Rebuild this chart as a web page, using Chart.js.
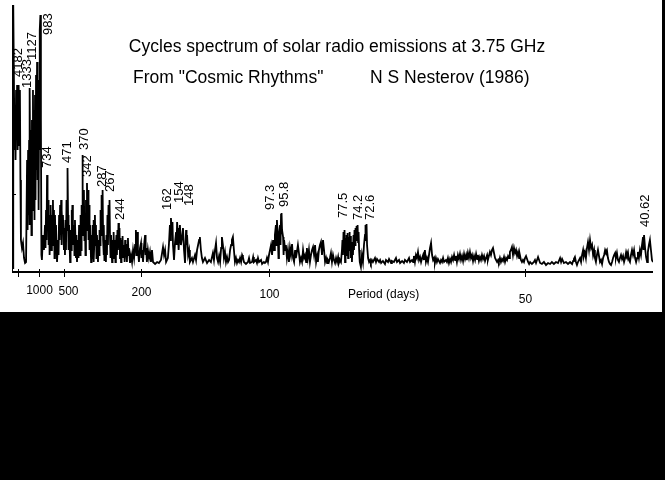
<!DOCTYPE html>
<html>
<head>
<meta charset="utf-8">
<script src="https://cdn.jsdelivr.net/npm/chart.js@4.4.1/dist/chart.umd.min.js"></script>
<style>
  html, body { margin: 0; padding: 0; background: #000; }
  canvas { display: block; }
</style>
</head>
<body>
<canvas id="c" width="665" height="480" style="width:665px;height:480px"></canvas>
<script>
// ---- Data ----
// x: frequency in cycles per 1000 days (period = 1000 / freq days)
// y: relative spectral amplitude (arbitrary units)
const titleLine1 = 'Cycles spectrum of solar radio emissions at 3.75 GHz';
const titleLine2a = 'From "Cosmic Rhythms"';
const titleLine2b = 'N S Nesterov (1986)';
const axisTitle = 'Period (days)';

const tickPeriods = [5000, 1000, 500, 200, 100, 50];
const tickLabels  = ['', '1000', '500', '200', '100', '50'];

const peakPeriods = [4182, 1333, 1127, 983, 734, 471, 370, 342, 287, 267, 244, 162, 154, 148, 97.3, 95.8, 77.5, 74.2, 72.6, 40.62];
const peakLabels  = ['4182','1333','1127','983','734','471','370','342','287','267','244','162','154','148','97.3','95.8','77.5','74.2','72.6','40.62'];
const peakLabelLevel = [193, 182, 210, 235, 102, 107, 120, 93, 83, 78, 50, 60, 67, 64, 60, 63, 52, 50, 50, 43];

const freq = [
  0.00,0.01,0.06,0.08,0.10,0.12,0.14,0.16,0.18,0.20,0.21,0.23,0.25,0.27,0.29,0.31,0.35,0.39,0.43,0.47,0.51,
  0.55,0.57,0.59,0.61,0.63,0.64,0.66,0.68,0.70,0.72,0.74,0.76,0.78,0.80,0.82,0.84,0.86,0.88,0.90,0.92,0.94,0.96,0.98,1.00,1.02,1.04,1.05,1.07,1.09,1.11,1.13,
  1.17,1.21,1.25,1.27,1.29,1.31,1.33,1.35,1.37,1.39,1.41,1.43,1.45,1.46,1.48,1.50,1.52,1.54,1.56,1.58,1.60,1.62,1.64,1.66,1.68,1.72,1.76,1.78,1.80,1.82,1.84,1.86,1.88,1.89,1.91,1.93,1.95,1.99,
  2.01,2.03,2.05,2.07,2.09,2.11,2.13,2.15,2.17,2.19,2.23,2.25,2.27,2.29,2.30,2.32,2.34,2.38,2.40,2.42,2.46,2.48,2.50,2.54,2.56,2.58,2.62,2.64,2.66,2.68,2.70,2.71,2.73,2.75,2.77,2.79,2.81,2.83,2.85,2.87,2.89,2.91,2.93,2.95,2.97,2.99,
  3.01,3.05,3.07,3.09,3.11,3.13,3.14,3.16,3.18,3.20,3.22,3.24,3.26,3.28,3.32,3.34,3.36,3.38,3.40,3.42,3.44,3.46,3.48,3.50,3.52,3.54,3.55,3.57,3.59,3.63,3.65,3.67,3.69,3.71,3.73,3.75,3.77,3.79,3.81,3.83,3.87,3.89,3.91,3.93,3.95,3.98,
  4.00,4.02,4.04,4.06,4.08,4.10,4.12,4.14,4.16,4.18,4.20,4.22,4.24,4.26,4.28,4.30,4.34,4.36,4.38,4.39,4.41,4.45,4.47,4.49,4.51,4.53,4.57,
  4.61,4.65,4.69,4.73,4.77,4.80,4.82,4.84,4.86,4.88,4.92,4.96,5.00,5.02,5.04,5.08,5.12,5.16,5.18,5.20,5.23,5.27,5.31,5.35,5.39,5.43,5.47,5.55,5.63,5.70,5.78,5.86,5.90,5.94,5.98,
  6.05,6.09,6.13,6.15,6.17,6.21,6.23,6.25,6.29,6.33,6.37,6.39,6.41,6.45,6.46,6.48,6.52,6.56,6.60,6.64,6.68,6.72,6.76,6.78,6.80,6.84,6.88,6.91,6.99,7.03,7.11,7.15,7.19,7.23,7.27,7.30,7.34,7.38,
  7.42,7.50,7.58,7.66,7.73,7.81,7.85,7.89,7.93,7.97,8.01,8.05,8.09,8.13,8.16,8.20,8.24,8.28,8.32,8.36,8.40,8.44,8.48,8.52,8.55,8.59,8.63,8.67,8.71,8.75,8.79,8.83,8.87,8.91,8.95,8.98,
  9.02,9.10,9.18,9.22,9.26,9.34,9.38,9.41,9.49,9.53,9.57,9.61,9.69,9.73,9.80,9.84,9.88,9.92,9.96,10.00,10.04,
  10.08,10.12,10.16,10.20,10.23,10.27,10.29,10.31,10.35,10.37,10.39,10.43,10.45,10.47,10.49,10.51,10.55,10.57,10.59,10.63,10.66,10.70,10.74,10.78,10.82,10.86,10.90,10.94,10.98,
  11.02,11.05,11.09,11.13,11.17,11.21,11.25,11.29,11.33,11.37,11.41,11.45,11.48,11.52,11.56,11.60,11.64,11.68,11.72,11.76,11.80,11.84,11.88,11.91,11.95,11.99,
  12.03,12.07,12.11,12.15,12.19,12.23,12.27,12.30,12.34,
  12.38,12.42,12.46,12.50,12.54,12.58,12.62,12.66,12.70,12.73,12.77,12.81,12.85,12.87,12.89,12.91,12.93,12.95,12.97,12.99,
  13.01,13.03,13.05,13.07,13.09,13.11,13.13,13.14,13.16,13.18,13.20,13.22,13.24,13.26,13.28,13.30,13.32,13.34,13.36,13.38,13.40,13.42,13.44,13.46,13.48,13.50,13.52,13.54,13.55,13.59,13.63,13.67,13.71,13.75,13.77,13.79,13.81,13.83,13.87,13.91,13.95,13.98,
  14.02,14.06,14.14,14.18,14.22,14.30,14.34,14.38,14.45,14.53,14.57,14.65,14.69,14.77,14.80,14.88,14.96,15.00,15.08,15.12,15.20,15.27,15.31,15.39,15.47,15.51,15.59,15.63,15.66,15.70,15.74,15.78,15.82,15.86,15.90,
  15.94,15.98,16.02,16.05,16.09,16.13,16.17,16.21,16.25,16.29,16.33,16.37,16.41,16.45,16.48,16.52,16.56,16.60,16.68,16.72,16.76,16.80,16.84,16.91,16.95,16.99,
  17.03,17.07,17.11,17.15,17.19,17.23,17.27,17.30,17.34,17.38,17.42,17.46,17.50,17.54,17.58,17.62,17.66,17.70,17.73,17.77,17.81,17.85,17.89,17.93,17.97,
  18.01,18.05,18.09,18.13,18.16,18.20,18.24,18.28,18.32,18.36,18.40,18.44,18.48,18.52,18.55,18.59,18.63,18.67,18.71,18.75,18.79,18.83,18.87,18.91,18.95,
  18.98,19.02,19.06,19.10,19.14,19.18,19.22,19.26,19.30,19.34,19.38,19.41,19.45,19.49,19.53,19.57,19.61,19.65,19.69,19.73,19.77,19.80,19.84,19.88,19.92,19.96,
  20.00,20.04,20.08,20.12,20.16,20.20,20.27,20.35,20.39,20.43,20.47,20.51,20.55,20.59,20.66,20.74,20.82,20.90,20.98,21.05,21.13,21.21,21.29,21.37,
  21.41,21.45,21.52,21.60,21.68,21.76,21.84,21.88,21.91,21.95,21.99,22.03,22.07,22.15,22.19,22.23,22.27,22.30,22.34,22.38,22.42,22.46,22.50,22.54,22.58,22.62,22.66,22.70,22.73,22.77,22.81,22.85,22.89,22.93,22.97,
  23.01,23.05,23.09,23.13,23.16,23.20,23.24,23.28,23.32,23.36,23.40,23.44,23.48,23.52,23.55,23.59,23.63,23.67,23.71,23.75,23.79,23.83,23.87,23.91,23.95,23.98,
  24.02,24.06,24.10,24.14,24.18,24.22,24.26,24.30,24.34,24.38,24.41,24.45,24.49,24.53,24.57,24.61,24.63,24.65,24.69,24.73,24.77,24.80,24.84,24.88,24.92,24.96,25.00
];

const power = [
  2,265,120,160,110,180,130,185,120,170,140,185,125,180,90,30,22,27,12,7,8,
  110,40,120,55,130,45,182,70,140,35,150,60,180,80,160,50,175,70,195,100,208,90,190,60,170,120,240,255,150,15,10,
  35,20,45,22,60,30,95,45,70,25,55,15,50,30,65,20,55,35,70,25,60,12,55,30,45,8,30,15,55,30,65,35,70,25,60,40,55,20,
  42,15,50,20,70,40,102,55,20,45,8,40,20,60,30,65,25,45,15,50,12,35,8,30,12,45,15,55,20,65,40,115,70,35,80,30,55,15,70,40,87,55,80,30,65,20,
  45,8,35,12,45,20,50,8,30,55,25,45,12,35,8,30,15,40,25,60,35,75,45,80,30,15,45,10,30,8,35,15,55,25,65,40,70,32,12,35,8,30,12,38,15,30,
  8,25,35,15,40,20,47,25,42,12,32,8,30,15,34,12,25,8,30,15,25,8,25,32,15,22,7,
  15,8,20,12,25,40,15,28,38,20,8,22,27,12,20,8,25,35,15,22,8,20,12,18,8,20,8,6,8,7,10,23,15,20,8,
  12,25,45,30,52,35,48,25,10,28,38,25,48,30,42,20,45,25,32,42,20,7,40,25,35,15,20,8,12,8,15,10,20,25,30,33,20,12,
  8,12,7,10,8,17,10,20,27,12,8,14,8,22,33,25,12,18,8,13,8,10,20,25,30,33,20,8,12,7,10,8,12,8,15,13,
  8,6,8,12,7,8,13,8,10,7,12,8,10,6,8,7,8,12,8,15,20,
  25,15,30,20,35,45,25,50,30,12,35,45,25,55,57,40,33,15,30,20,25,12,20,8,22,15,26,12,8,
  20,12,18,25,17,8,12,8,20,12,15,8,22,12,20,8,15,20,23,15,25,8,14,8,20,25,
  28,15,30,20,8,12,7,10,8,
  12,17,8,15,10,7,12,8,13,7,10,8,20,30,15,38,20,40,8,32,
  15,35,22,37,12,33,20,38,25,34,12,28,8,24,15,35,20,40,25,42,30,44,32,45,28,38,20,15,8,3,15,8,25,35,45,30,46,25,12,8,10,7,
  10,8,12,8,11,8,10,7,9,6,10,8,11,7,9,8,12,8,10,7,9,7,10,8,12,8,10,8,14,8,15,12,18,10,13,
  8,12,15,10,20,8,12,8,15,22,27,15,10,12,7,12,8,11,7,10,8,12,8,10,8,12,
  7,11,8,13,10,15,10,14,8,15,11,16,10,14,9,16,11,15,10,17,12,18,12,15,9,
  14,10,16,11,15,9,13,10,15,11,14,9,12,15,10,14,18,15,20,22,17,12,10,8,10,
  8,12,8,11,9,13,8,12,10,14,12,18,20,23,15,22,17,20,14,18,12,15,10,8,10,8,
  12,14,11,8,6,8,6,8,10,7,10,13,10,7,6,8,5,7,6,8,6,8,7,12,
  8,11,7,8,6,8,6,9,11,13,8,5,8,12,8,15,20,14,18,12,22,28,20,30,22,25,15,20,12,8,15,20,14,8,10,
  6,12,15,20,18,20,12,8,6,5,8,12,15,17,12,17,10,8,12,15,11,14,8,12,18,15,
  18,10,8,15,20,15,20,12,8,12,18,12,20,15,25,33,20,35,22,13,8,18,25,30,20,10,8
];

const bgPlugin = {
  id: 'bg',
  beforeDraw(chart) {
    const c = chart.ctx;
    c.save();
    c.fillStyle = '#000';
    c.fillRect(0, 0, chart.width, chart.height);
    c.fillStyle = '#fff';
    c.fillRect(0, 0, 662, 312);
    c.restore();
  }
};

const decorPlugin = {
  id: 'decor',
  afterDatasetsDraw(chart, args, opts) {
    const c = chart.ctx;
    const xs = chart.scales.x, ys = chart.scales.y;
    const area = chart.chartArea;
    c.save();
    c.strokeStyle = '#000';
    c.fillStyle = '#000';
    // y axis line
    c.lineWidth = 1;
    c.beginPath();
    c.moveTo(area.left - 0.5, area.top);
    c.lineTo(area.left - 0.5, area.bottom);
    c.stroke();
    // y axis small ticks (inward)
    [76, 152].forEach(v => {
      const y = Math.round(ys.getPixelForValue(v)) + 0.5;
      c.beginPath();
      c.moveTo(area.left - 1, y);
      c.lineTo(area.left + 3, y);
      c.stroke();
    });
    // x axis line
    c.lineWidth = 2;
    c.beginPath();
    c.moveTo(area.left - 1, area.bottom);
    c.lineTo(area.right, area.bottom);
    c.stroke();
    // x ticks + labels
    c.lineWidth = 1;
    c.font = '12px "Liberation Sans", Arial, sans-serif';
    c.textAlign = 'center';
    c.textBaseline = 'middle';
    tickPeriods.forEach((p, i) => {
      const x = Math.round(xs.getPixelForValue(1000 / p)) + 0.5;
      c.beginPath();
      c.moveTo(x, area.bottom - 3);
      c.lineTo(x, area.bottom + 5);
      c.stroke();
      if (tickLabels[i]) {
        const nudge = (opts.tickNudge && opts.tickNudge[tickLabels[i]]) || 0;
        c.fillText(tickLabels[i], x + nudge, 291 + (x - 38) * 0.018);
      }
    });
    // axis title
    c.textAlign = 'left';
    c.fillText(axisTitle, 348, 295);
    // titles
    c.font = '17.5px "Liberation Sans", Arial, sans-serif';
    c.textAlign = 'center';
    c.fillText(titleLine1, 337, 47);
    c.textAlign = 'left';
    c.fillText(titleLine2a, 133, 78);
    c.fillText(titleLine2b, 370, 78);
    // peak labels, rotated
    c.font = '13px "Liberation Sans", Arial, sans-serif';
    c.textAlign = 'left';
    c.textBaseline = 'middle';
    peakPeriods.forEach((p, i) => {
      const nudge = (opts.labelNudge && opts.labelNudge[peakLabels[i]]) || 0;
      const x = xs.getPixelForValue(1000 / p) + nudge;
      const y = ys.getPixelForValue(peakLabelLevel[i]);
      c.save();
      c.translate(x, y);
      c.rotate(-Math.PI / 2);
      c.fillText(peakLabels[i], 0, 0);
      c.restore();
    });
    c.restore();
  }
};

new Chart(document.getElementById('c'), {
  type: 'line',
  data: {
    datasets: [{
      data: freq.map((f, i) => ({ x: f, y: power[i] })),
      borderColor: '#000',
      borderWidth: 1.8,
      pointRadius: 0,
      tension: 0,
      fill: false
    }]
  },
  options: {
    responsive: false,
    animation: false,
    devicePixelRatio: 1,
    layout: { padding: { left: 13, right: 12, top: 5, bottom: 208 } },
    scales: {
      x: { type: 'linear', min: 0, max: 25, display: false },
      y: { type: 'linear', min: -2, max: 265, display: false }
    },
    plugins: {
      legend: { display: false },
      tooltip: { enabled: false },
      decor: {
        tickNudge: { '500': 4 },
        labelNudge: { '4182': -1, '1333': -5, '1127': -3, '983': 9, '370': 2, '267': 2, '244': 3, '162': -4, '148': 3, '97.3': -6, '95.8': 4, '72.6': 5, '40.62': 2 }
      }
    }
  },
  plugins: [bgPlugin, decorPlugin]
});
</script>
</body>
</html>
